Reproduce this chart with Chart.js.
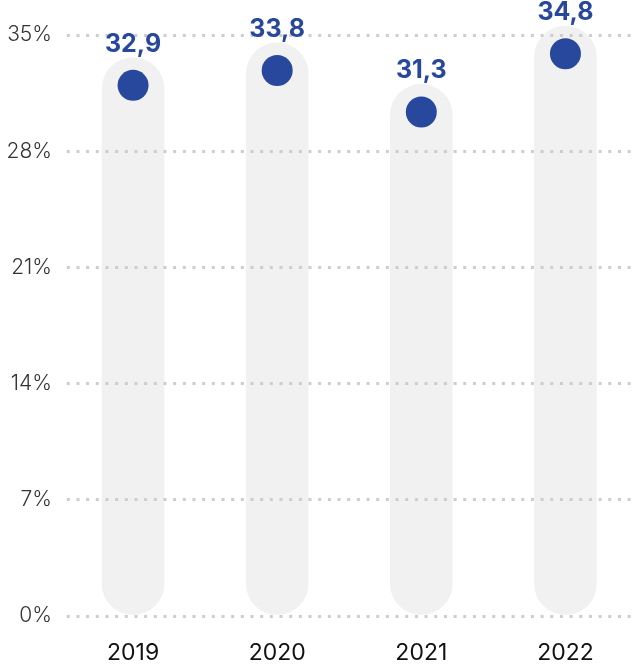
<!DOCTYPE html>
<html>
<head>
<meta charset="utf-8">
<script src="https://cdn.jsdelivr.net/npm/chart.js@4"></script>
<style>
  html, body { margin: 0; padding: 0; background: #fff; overflow: hidden; }
  #wrap { position: relative; width: 653px; height: 665px; }
</style>
</head>
<body>
<div id="wrap"><canvas id="myChart"></canvas></div>
<script>
// chart data
const years = ["2019", "2020", "2021", "2022"];
const shares = [32.9, 33.8, 31.3, 34.8];
const yMax = 35;
const yStep = 7;

const blue = "#28489e";
const pillGrey = "#f1f1f1";
const pillPad = 12;   // px the grey pill reaches above the dot
const dotR = 15.5;

// dot top sits on the value, pill a bit higher
const shiftPlugin = {
  id: "shift",
  afterDatasetsUpdate(chart) {
    chart.getDatasetMeta(0).data.forEach((b) => { b.y -= pillPad; });
    chart.getDatasetMeta(1).data.forEach((p) => { p.y += dotR; });
  },
  afterDraw(chart) {
    const ctx = chart.ctx;
    ctx.save();
    ctx.font = "700 25px Inter";
    ctx.fillStyle = blue;
    ctx.textAlign = "center";
    ctx.textBaseline = "alphabetic";
    chart.getDatasetMeta(1).data.forEach((p, i) => {
      const txt = shares[i].toFixed(1).replace(".", ",");
      ctx.fillText(txt, p.x, p.y - dotR - 18);
    });
    ctx.restore();
  }
};

const ctx = document.getElementById("myChart").getContext("2d");
const chart = new Chart(ctx, {
  data: {
    labels: years,
    datasets: [
      {
        type: "bar",
        data: shares,
        backgroundColor: pillGrey,
        barThickness: 62,
        borderRadius: 31,
        borderSkipped: false,
        clip: false,
        order: 2,
      },
      {
        type: "line",
        data: shares,
        showLine: false,
        pointRadius: dotR,
        pointBackgroundColor: blue,
        pointBorderWidth: 0,
        clip: false,
        order: 1,
      },
    ],
  },
  options: {
    responsive: true,
    maintainAspectRatio: false,
    animation: false,
    events: [],
    layout: { padding: { top: 35, bottom: 0, left: 0, right: 0 } },
    plugins: { legend: { display: false }, tooltip: { enabled: false } },
    scales: {
      x: {
        grid: { display: false },
        border: { display: false },
        ticks: {
          color: "#111",
          padding: 15,
          font: { family: "Inter", size: 23, weight: 400 },
        },
        afterFit: (s) => { s.height = 49; s.paddingLeft = 0; s.paddingRight = 0; },
      },
      y: {
        min: 0,
        max: yMax,
        grid: { color: "#cdcdcd", lineWidth: 3, drawTicks: false, z: 1 },
        border: { display: false, dash: [3, 6.67], dashOffset: 3.9 },
        ticks: {
          stepSize: yStep,
          color: "#333",
          padding: 9,
          font: { family: "Inter", size: 21, weight: 300 },
          callback: (v) => v + "%",
        },
        afterFit: (s) => { s.width = 61; },
      },
    },
  },
  plugins: [shiftPlugin],
});
</script>
</body>
</html>
